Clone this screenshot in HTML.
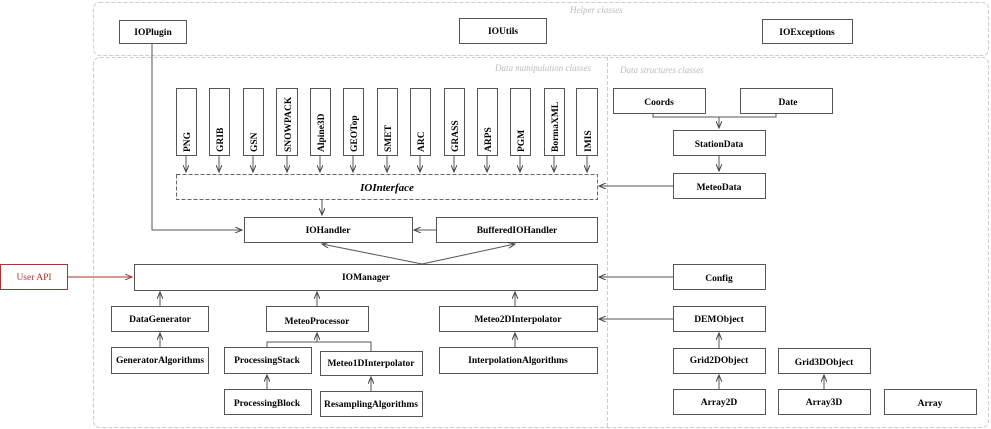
<!DOCTYPE html>
<html><head><meta charset="utf-8"><style>
html,body{margin:0;padding:0;background:#fff;}
svg{display:block;}
text{font-family:"Liberation Serif",serif;font-weight:bold;font-size:9.5px;fill:#000;}
.i{font-style:italic;font-weight:normal;fill:#bbb;font-size:9px;}
</style></head><body>
<svg width="991" height="429" viewBox="0 0 991 429" xmlns="http://www.w3.org/2000/svg">
<defs>
<marker id="a" markerWidth="8" markerHeight="6" refX="7" refY="3" orient="auto" markerUnits="userSpaceOnUse">
<path d="M0,0 L7,3 L0,6" fill="none" stroke="#444" stroke-width="1"/></marker>
<marker id="r" markerWidth="8" markerHeight="6" refX="7" refY="3" orient="auto" markerUnits="userSpaceOnUse">
<path d="M0,0 L7,3 L0,6" fill="none" stroke="#a33" stroke-width="1"/></marker>
</defs>
<g fill="none" stroke="#ccc" stroke-dasharray="4,2">
<rect x="93.5" y="2.5" width="895" height="53" rx="6"/>
<rect x="93.5" y="57.5" width="895" height="370" rx="6"/>
<line x1="607.5" y1="57" x2="607.5" y2="428"/>
</g>
<text class="i" x="570" y="13">Helper classes</text>
<text class="i" x="495" y="71">Data manipulation classes</text>
<text class="i" x="620" y="73">Data structures classes</text>

<g fill="#fff" stroke="#555" stroke-width="1">
<rect x="119.5" y="20.5" width="67" height="23"/>
<rect x="459.5" y="18.5" width="87" height="25"/>
<rect x="762.5" y="19.5" width="90" height="24"/>
<rect x="244.5" y="217.5" width="168" height="25"/>
<rect x="436.5" y="217.5" width="161" height="25"/>
<rect x="134.5" y="264.5" width="463" height="26"/>
<rect x="111.5" y="306.5" width="97" height="25"/>
<rect x="266.5" y="306.5" width="102" height="25"/>
<rect x="439.5" y="306.5" width="158" height="25"/>
<rect x="111.5" y="347.5" width="97" height="26"/>
<rect x="224.5" y="347.5" width="87" height="26"/>
<rect x="320.5" y="351.5" width="102" height="24"/>
<rect x="439.5" y="347.5" width="158" height="26"/>
<rect x="224.5" y="389.5" width="87" height="25"/>
<rect x="320.5" y="391.5" width="102" height="25"/>
<rect x="613.5" y="88.5" width="92" height="25"/>
<rect x="740.5" y="88.5" width="92" height="25"/>
<rect x="673.5" y="130.5" width="92" height="25"/>
<rect x="673.5" y="173.5" width="92" height="25"/>
<rect x="673.5" y="264.5" width="92" height="25"/>
<rect x="673.5" y="306.5" width="92" height="25"/>
<rect x="673.5" y="348.5" width="92" height="25"/>
<rect x="778.5" y="348.5" width="92" height="25"/>
<rect x="673.5" y="389.5" width="92" height="25"/>
<rect x="778.5" y="389.5" width="92" height="25"/>
<rect x="884.5" y="389.5" width="92" height="25"/>
<rect x="176.5" y="88.5" width="20" height="67"/><rect x="209.5" y="88.5" width="20" height="67"/>
<rect x="243.5" y="88.5" width="20" height="67"/><rect x="276.5" y="88.5" width="21" height="67"/>
<rect x="310.5" y="88.5" width="20" height="67"/><rect x="343.5" y="88.5" width="20" height="67"/>
<rect x="377.5" y="88.5" width="20" height="67"/><rect x="410.5" y="88.5" width="20" height="67"/>
<rect x="444.5" y="88.5" width="20" height="67"/><rect x="477.5" y="88.5" width="20" height="67"/>
<rect x="510.5" y="88.5" width="20" height="67"/><rect x="544.5" y="88.5" width="20" height="67"/>
<rect x="576.5" y="88.5" width="21" height="67"/>
</g>
<rect x="176.5" y="174.5" width="421" height="25" fill="none" stroke="#666" stroke-dasharray="4,2"/>
<rect x="0.5" y="264.5" width="67" height="25" fill="#fff" stroke="#a33"/>

<g stroke="#555" fill="none">
<polyline points="267,347 267,342 371,342 371,351"/>
<polyline points="653,113 653,117 776,117 776,113"/>
</g>
<g stroke="#555" fill="none" marker-end="url(#a)">
<line x1="186" y1="155" x2="186" y2="172"/><line x1="219" y1="155" x2="219" y2="172"/>
<line x1="253" y1="155" x2="253" y2="172"/><line x1="287" y1="155" x2="287" y2="172"/>
<line x1="320" y1="155" x2="320" y2="172"/><line x1="353" y1="155" x2="353" y2="172"/>
<line x1="387" y1="155" x2="387" y2="172"/><line x1="420" y1="155" x2="420" y2="172"/>
<line x1="454" y1="155" x2="454" y2="172"/><line x1="487" y1="155" x2="487" y2="172"/>
<line x1="520" y1="155" x2="520" y2="172"/><line x1="554" y1="155" x2="554" y2="172"/>
<line x1="587" y1="155" x2="587" y2="172"/>
<line x1="322" y1="200" x2="322" y2="215"/>
<polyline points="152,44 152,230 242,230"/>
<line x1="436" y1="230" x2="414" y2="230"/>
<line x1="422" y1="264" x2="322" y2="244"/>
<line x1="422" y1="264" x2="515" y2="244"/>
<line x1="160" y1="306" x2="160" y2="292"/>
<line x1="317" y1="306" x2="317" y2="292"/>
<line x1="515" y1="306" x2="515" y2="292"/>
<line x1="160" y1="347" x2="160" y2="333"/>
<line x1="515" y1="347" x2="515" y2="333"/>
<line x1="317" y1="342" x2="317" y2="333"/>
<line x1="267" y1="389" x2="267" y2="375"/>
<line x1="371" y1="391" x2="371" y2="377"/>
<line x1="673" y1="186" x2="599" y2="186"/>
<line x1="673" y1="277" x2="599" y2="277"/>
<line x1="673" y1="319" x2="599" y2="319"/>
<line x1="719" y1="117" x2="719" y2="128"/>
<line x1="719" y1="155" x2="719" y2="171"/>
<line x1="719" y1="348" x2="719" y2="333"/>
<line x1="719" y1="389" x2="719" y2="375"/>
<line x1="824" y1="389" x2="824" y2="375"/>
</g>
<line x1="67" y1="277" x2="132" y2="277" stroke="#a33" marker-end="url(#r)"/>

<g text-anchor="middle">
<text x="153" y="35">IOPlugin</text>
<text x="503" y="34">IOUtils</text>
<text x="807" y="35">IOExceptions</text>
<text x="387" y="191" style="font-style:italic;font-size:11px">IOInterface</text>
<text x="328" y="233">IOHandler</text>
<text x="517" y="233">BufferedIOHandler</text>
<text x="366" y="280">IOManager</text>
<text x="34" y="280" style="fill:#a33;font-weight:normal">User API</text>
<text x="160" y="322">DataGenerator</text>
<text x="317" y="324">MeteoProcessor</text>
<text x="518" y="322">Meteo2DInterpolator</text>
<text x="160" y="363">GeneratorAlgorithms</text>
<text x="267" y="363">ProcessingStack</text>
<text x="371" y="366">Meteo1DInterpolator</text>
<text x="518" y="363">InterpolationAlgorithms</text>
<text x="267" y="406">ProcessingBlock</text>
<text x="371" y="407">ResamplingAlgorithms</text>
<text x="659" y="105">Coords</text>
<text x="788" y="105">Date</text>
<text x="719" y="147">StationData</text>
<text x="719" y="190">MeteoData</text>
<text x="719" y="281">Config</text>
<text x="719" y="322">DEMObject</text>
<text x="719" y="363">Grid2DObject</text>
<text x="824" y="365">Grid3DObject</text>
<text x="719" y="405">Array2D</text>
<text x="824" y="405">Array3D</text>
<text x="930" y="406">Array</text>
</g>
<g text-anchor="start">
<text transform="translate(190,152) rotate(-90)">PNG</text>
<text transform="translate(223,152) rotate(-90)">GRIB</text>
<text transform="translate(257,152) rotate(-90)">GSN</text>
<text transform="translate(291,152) rotate(-90)">SNOWPACK</text>
<text transform="translate(324,152) rotate(-90)">Alpine3D</text>
<text transform="translate(357,152) rotate(-90)">GEOTop</text>
<text transform="translate(391,152) rotate(-90)">SMET</text>
<text transform="translate(424,152) rotate(-90)">ARC</text>
<text transform="translate(458,152) rotate(-90)">GRASS</text>
<text transform="translate(491,152) rotate(-90)">ARPS</text>
<text transform="translate(524,152) rotate(-90)">PGM</text>
<text transform="translate(558,152) rotate(-90)">BormaXML</text>
<text transform="translate(591,152) rotate(-90)">IMIS</text>
</g>
</svg>
</body></html>
